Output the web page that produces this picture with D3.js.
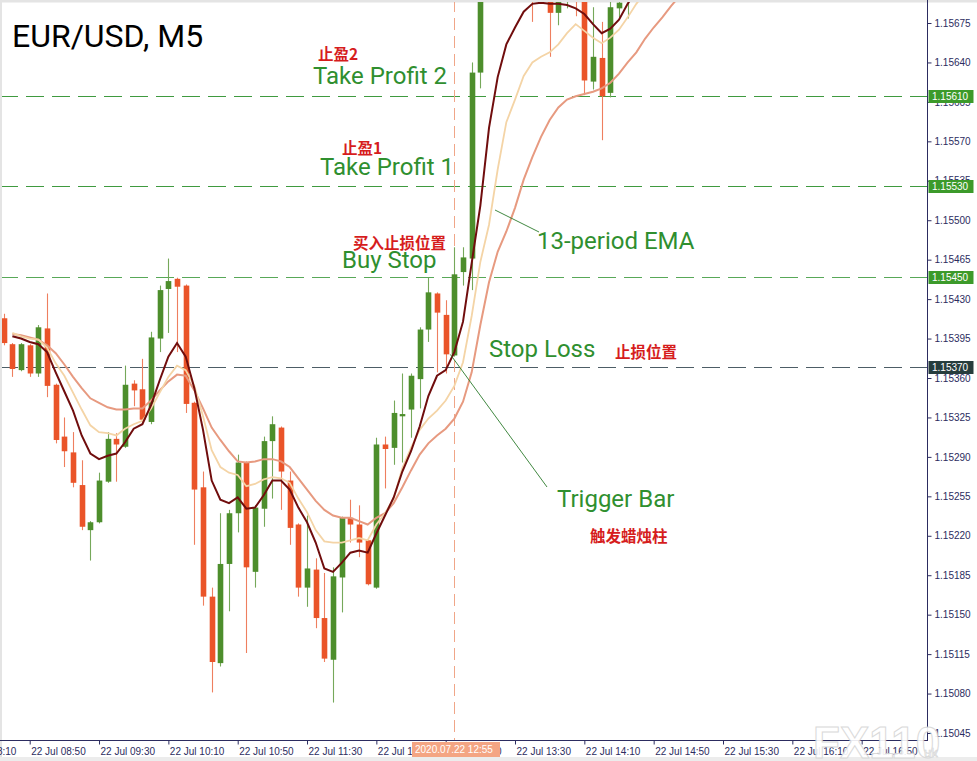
<!DOCTYPE html>
<html><head><meta charset="utf-8">
<script src="https://cdn.jsdelivr.net/npm/d3@7"></script>
<style>
html,body{margin:0;padding:0;background:#fff;}
svg{display:block;}
</style></head><body>
<svg id="chart" width="977" height="761"></svg>
<script>
// ---------- DATA ----------
const candleTimes = ["08:35","08:40","08:45","08:50","08:55","09:00","09:05","09:10","09:15","09:20",
"09:25","09:30","09:35","09:40","09:45","09:50","09:55","10:00","10:05","10:10",
"10:15","10:20","10:25","10:30","10:35","10:40","10:45","10:50","10:55","11:00",
"11:05","11:10","11:15","11:20","11:25","11:30","11:35","11:40","11:45","11:50",
"11:55","12:00","12:05","12:10","12:15","12:20","12:25","12:30","12:35","12:40",
"12:45","12:50","12:55","13:00","13:05","13:10",
"13:40","13:50","13:55","14:00","14:05","14:10","14:15","14:20","14:25","14:30","14:35"];

const openP = [
1.15413,1.15390,1.15367,1.15389,1.15364,1.15404,1.15354,1.15308,1.15294,1.15265,
1.15225,1.15232,1.15268,1.15306,1.15299,1.15355,1.15350,1.15321,1.15395,1.15439,
1.15448,1.15442,1.15338,1.15263,1.15166,1.15107,1.15195,1.15240,1.15285,1.15188,
1.15244,1.15304,1.15316,1.15269,1.15230,1.15174,1.15190,1.15147,1.15110,1.15183,
1.15236,1.15230,1.15216,1.15174,1.15301,1.15298,1.15326,1.15332,1.15359,1.15403,
1.15435,1.15416,1.15380,1.15454,1.15466,1.15631,
1.15720,1.15706,1.15684,1.15697,1.15715,1.15705,1.15623,1.15644,1.15613,1.15688,1.15696];

const highP = [
1.15417,1.15391,1.15391,1.15390,1.15407,1.15435,1.15355,1.15325,1.15312,1.15287,
1.15233,1.15276,1.15312,1.15311,1.15371,1.15358,1.15377,1.15401,1.15442,1.15466,
1.15449,1.15443,1.15339,1.15277,1.15174,1.15240,1.15243,1.15292,1.15286,1.15247,
1.15308,1.15326,1.15317,1.15277,1.15231,1.15238,1.15200,1.15187,1.15192,1.15237,
1.15252,1.15247,1.15217,1.15307,1.15308,1.15340,1.15364,1.15364,1.15405,1.15449,
1.15436,1.15429,1.15476,1.15476,1.15640,1.15712,
1.15725,1.15712,1.15706,1.15716,1.15720,1.15710,1.15689,1.15676,1.15697,1.15700,1.15710];

const lowP = [
1.15389,1.15361,1.15366,1.15361,1.15361,1.15343,1.15302,1.15281,1.15263,1.15225,
1.15198,1.15231,1.15267,1.15268,1.15298,1.15335,1.15321,1.15319,1.15383,1.15400,
1.15383,1.15329,1.15212,1.15158,1.15081,1.15104,1.15153,1.15223,1.15116,1.15174,
1.15228,1.15253,1.15243,1.15212,1.15166,1.15157,1.15138,1.15108,1.15072,1.15152,
1.15214,1.15201,1.15176,1.15173,1.15262,1.15283,1.15285,1.15307,1.15333,1.15392,
1.15365,1.15364,1.15379,1.15442,1.15438,1.15617,
1.15676,1.15645,1.15673,1.15688,1.15681,1.15611,1.15616,1.15571,1.15609,1.15680,1.15679];

const closeP = [
1.15391,1.15368,1.15390,1.15364,1.15405,1.15353,1.15305,1.15295,1.15267,1.15228,
1.15232,1.15269,1.15306,1.15301,1.15354,1.15349,1.15323,1.15396,1.15438,1.15446,
1.15441,1.15337,1.15261,1.15166,1.15108,1.15195,1.15240,1.15285,1.15192,1.15245,
1.15304,1.15319,1.15277,1.15227,1.15174,1.15191,1.15147,1.15111,1.15184,1.15236,
1.15230,1.15214,1.15177,1.15301,1.15297,1.15329,1.15328,1.15362,1.15403,1.15436,
1.15418,1.15381,1.15452,1.15467,1.15631,1.15705,
1.15697,1.15684,1.15702,1.15712,1.15699,1.15624,1.15645,1.15610,1.15689,1.15693,1.15705];

// moving averages, one value per 5-minute bar starting at emaStart
const emaStart = "08:40";
const emaFast = [
1.15397,1.15395,1.15392,1.15390,1.15383,1.15365,1.15348,1.15331,1.15309,1.15293,
1.15288,1.15291,1.15293,1.15303,1.15315,1.15319,1.15336,1.15358,1.15379,1.15391,
1.15379,1.15351,1.15314,1.15269,1.15252,1.15249,1.15254,1.15244,1.15245,1.15256,
1.15269,1.15269,1.15261,1.15245,1.15232,1.15214,1.15191,1.15188,1.15196,1.15205,
1.15207,1.15205,1.15222,1.15238,1.15254,1.15277,1.15295,1.15317,1.15344,1.15362,
1.15367,1.15383,1.15410,1.15462,1.15513,1.15582,1.15627,1.15656,1.15671,1.15685,
1.15692,1.15693,1.15692,1.15692,1.15691,1.15688,1.15683,1.15674,1.15666,1.15670,1.15678,1.15692,1.15704];
const emaMid = [
1.15400,1.15397,1.15395,1.15394,1.15387,1.15373,1.15362,1.15347,1.15332,1.15318,
1.15312,1.15311,1.15309,1.15315,1.15319,1.15322,1.15333,1.15347,1.15361,1.15371,
1.15367,1.15353,1.15326,1.15296,1.15281,1.15276,1.15274,1.15264,1.15266,1.15270,
1.15272,1.15271,1.15267,1.15253,1.15241,1.15225,1.15215,1.15214,1.15214,1.15216,
1.15218,1.15216,1.15230,1.15240,1.15253,1.15280,1.15298,1.15314,1.15324,1.15331,
1.15340,1.15353,1.15374,1.15415,1.15463,1.15496,1.15545,1.15587,1.15607,1.15628,
1.15640,1.15645,1.15649,1.15656,1.15666,1.15674,1.15668,1.15662,1.15657,1.15662,1.15669,1.15680,1.15692,1.15702];
const emaSlow = [
1.15399,1.15398,1.15396,1.15394,1.15389,1.15382,1.15372,1.15361,1.15351,1.15342,
1.15338,1.15334,1.15332,1.15332,1.15333,1.15333,1.15340,1.15349,1.15357,1.15363,
1.15362,1.15349,1.15333,1.15316,1.15305,1.15295,1.15286,1.15285,1.15286,1.15288,
1.15288,1.15286,1.15281,1.15271,1.15261,1.15251,1.15243,1.15238,1.15236,1.15236,
1.15233,1.15230,1.15236,1.15240,1.15249,1.15263,1.15278,1.15292,1.15302,1.15309,
1.15315,1.15324,1.15339,1.15365,1.15407,1.15445,1.15472,1.15490,1.15511,1.15536,
1.15556,1.15574,1.15589,1.15600,1.15607,1.15610,1.15612,1.15614,1.15617,1.15622,
1.15630,1.15640,1.15649,1.15661,1.15671,1.15680,1.15690,1.15699];

const priceTicks = [1.15675,1.15640,1.15605,1.15570,1.15535,1.15500,1.15465,1.15430,1.15395,
1.15360,1.15325,1.15290,1.15255,1.15220,1.15185,1.15150,1.15115,1.15080,1.15045];
const timeTicks = ["08:10","08:50","09:30","10:10","10:50","11:30","12:10","12:50","13:30","14:10","14:50","15:30","16:10","16:50"];
const timeTickLabels = timeTicks.map(t => "22 Jul " + t);

const levelPrices = [1.15610, 1.15530, 1.15450, 1.15370];
const levelNames = ["Take Profit 2", "Take Profit 1", "Buy Stop", "Stop Loss"];
const levelNamesCN = ["止盈2", "止盈1", "买入止损位置", "止损位置"];
const triggerTime = "12:55";
const triggerLabel = "2020.07.22 12:55";
const title = "EUR/USD, M5";

// ---------- DRAW ----------
const svg = d3.select("#chart");
const W = 977, H = 761;
const plotRight = 927, plotBottom = 740, plotTop = 2;
const parse = d3.timeParse("%H:%M");

const x = d3.scaleTime().domain([parse("08:50"), parse("09:30")]).range([29.7, 99.03]);
const y = d3.scaleLinear().domain([1.15045, 1.15675]).range([733, 23]);

// background frame
svg.append("rect").attr("width", W).attr("height", H).attr("fill", "#fff");
svg.append("rect").attr("x",0).attr("y",0).attr("width",W).attr("height",2.5).attr("fill","#e4e4e4");
svg.append("rect").attr("x",0).attr("y",0).attr("width",2).attr("height",H).attr("fill","#e4e4e4");
svg.append("rect").attr("x",0).attr("y",757).attr("width",W).attr("height",4).attr("fill","#ececec");

svg.append("defs").append("clipPath").attr("id","plot")
  .append("rect").attr("x",2).attr("y",plotTop).attr("width",plotRight-2).attr("height",plotBottom-plotTop);

const plot = svg.append("g").attr("clip-path","url(#plot)");

// level lines
const levelStroke = ["#3f9a3f","#3f9a3f","#58a858","#4d5d66"];
plot.selectAll("line.level").data(levelPrices).join("line")
  .attr("class","level")
  .attr("x1",0).attr("x2",plotRight)
  .attr("y1",d=>Math.round(y(d))+0.5).attr("y2",d=>Math.round(y(d))+0.5)
  .attr("stroke",(d,i)=>levelStroke[i]).attr("stroke-width",1)
  .attr("stroke-dasharray","18,8");

// trigger vertical dashed
const tx = x(parse(triggerTime));
plot.append("line").attr("x1",Math.round(tx)+0.5).attr("x2",Math.round(tx)+0.5)
  .attr("y1",0).attr("y2",plotBottom)
  .attr("stroke","#f0a688").attr("stroke-width",1).attr("stroke-dasharray","12,6");

// candles
const candles = candleTimes.map((t,i)=>({t:parse(t),o:openP[i],h:highP[i],l:lowP[i],c:closeP[i]}));
const up = "#4d8e2c", down = "#ea5429";
const bw = 5.6;
const cg = plot.append("g");
cg.selectAll("line.wick").data(candles).join("line")
  .attr("class","wick")
  .attr("x1",d=>Math.round(x(d.t))+0.5).attr("x2",d=>Math.round(x(d.t))+0.5)
  .attr("y1",d=>y(d.h)).attr("y2",d=>y(d.l))
  .attr("stroke",d=>d.c>=d.o?"#76a85a":"#ee7f5f").attr("stroke-width",1.1);
cg.selectAll("rect.body").data(candles).join("rect")
  .attr("class","body")
  .attr("x",d=>Math.round(x(d.t))+0.5-bw/2)
  .attr("y",d=>y(Math.max(d.o,d.c)))
  .attr("width",bw)
  .attr("height",d=>Math.max(1.5, Math.abs(y(d.o)-y(d.c))))
  .attr("fill",d=>d.c>=d.o?up:down);

// moving averages
const s0 = parse(emaStart);
function emaPts(arr){ return arr.map((v,k)=>({t:d3.timeMinute.offset(s0,5*k), v})); }
const lineGen = d3.line().x(d=>x(d.t)).y(d=>y(d.v)).curve(d3.curveLinear);
plot.append("path").datum(emaPts(emaSlow)).attr("d",lineGen)
  .attr("fill","none").attr("stroke","#e79a80").attr("stroke-width",2);
plot.append("path").datum(emaPts(emaMid)).attr("d",lineGen)
  .attr("fill","none").attr("stroke","#f4d4a6").attr("stroke-width",1.8);
plot.append("path").datum(emaPts(emaFast)).attr("d",lineGen)
  .attr("fill","none").attr("stroke","#700d0d").attr("stroke-width",2);

// ---------- axes ----------
const axisColor = "#2c2c60";
const yAxis = d3.axisRight(y).tickValues(priceTicks).tickFormat(d3.format(".5f")).tickSize(4).tickPadding(3);
const gy = svg.append("g").attr("transform",`translate(${plotRight+0.5},0)`).call(yAxis);
gy.select(".domain").remove();
gy.selectAll(".tick line").attr("stroke",axisColor);
gy.selectAll("text").attr("fill",axisColor).attr("font-family","Liberation Sans, Arial, sans-serif").attr("font-size",10);
svg.append("line").attr("x1",plotRight+0.5).attr("x2",plotRight+0.5).attr("y1",0).attr("y2",plotBottom+1)
  .attr("stroke",axisColor).attr("stroke-width",1);

const xAxis = d3.axisBottom(x).tickValues(timeTicks.map(parse)).tickFormat((d,i)=>timeTickLabels[i]).tickSize(4).tickPadding(3);
const gx = svg.append("g").attr("transform",`translate(0,${plotBottom+0.5})`).call(xAxis);
gx.select(".domain").remove();
gx.selectAll(".tick line").attr("stroke",axisColor);
gx.selectAll("text").attr("fill",axisColor).attr("text-anchor","start").attr("x",1)
  .attr("font-family","Liberation Sans, Arial, sans-serif").attr("font-size",10);
svg.append("line").attr("x1",0).attr("x2",plotRight+1).attr("y1",plotBottom+0.5).attr("y2",plotBottom+0.5)
  .attr("stroke",axisColor).attr("stroke-width",1);

// price boxes on right axis
const boxFill = ["#3c9a2a","#3c9a2a","#3c9a2a","#273d3d"];
const pb = svg.append("g");
levelPrices.forEach((p,i)=>{
  const yy = Math.round(y(p))+0.5;
  pb.append("rect").attr("x",plotRight+1.5).attr("y",yy-6.5).attr("width",45).attr("height",13).attr("fill",boxFill[i]);
  pb.append("text").attr("x",plotRight+5).attr("y",yy+3.6).text(d3.format(".5f")(p))
    .attr("fill","#fff").attr("font-family","Liberation Sans, Arial, sans-serif").attr("font-size",10);
});

// trigger time box on time axis
svg.append("rect").attr("x",412).attr("y",plotBottom+2).attr("width",88).attr("height",15).attr("fill","#f4a583");
svg.append("text").attr("x",415).attr("y",plotBottom+13).text(triggerLabel)
  .attr("fill","#fff").attr("font-family","Liberation Sans, Arial, sans-serif").attr("font-size",10);

// ---------- annotations ----------
const green = "#2f8f2f", red = "#d61d1d";
const ann = svg.append("g");
ann.append("text").attr("x",12).attr("y",47).text(title)
  .attr("font-family","Roboto, sans-serif").attr("font-size",32).attr("fill","#000");

const enPos = [[313,84],[320,175],[342,268],[489,357]];
const cnPos = [[318,60],[342,154],[353,249],[615,358]];
levelNames.forEach((s,i)=>{
  ann.append("text").attr("x",enPos[i][0]).attr("y",enPos[i][1]).text(s)
    .attr("font-family","Roboto, sans-serif").attr("font-size",24).attr("fill",green);
  ann.append("text").attr("x",cnPos[i][0]).attr("y",cnPos[i][1]).text(levelNamesCN[i])
    .attr("font-family","Noto Sans CJK SC, sans-serif").attr("font-weight","bold").attr("font-size",15.5).attr("fill",red);
});
ann.append("text").attr("x",537).attr("y",249).text("13-period EMA")
  .attr("font-family","Roboto, sans-serif").attr("font-size",24).attr("fill",green);
ann.append("text").attr("x",557).attr("y",507).text("Trigger Bar")
  .attr("font-family","Roboto, sans-serif").attr("font-size",24).attr("fill",green);
ann.append("text").attr("x",590).attr("y",542).text("触发蜡烛柱")
  .attr("font-family","Noto Sans CJK SC, sans-serif").attr("font-weight","bold").attr("font-size",15.5).attr("fill",red);

// pointer lines
const emaPointT = d3.timeMinute.offset(parse("13:25"), 0);
ann.append("line").attr("x1",495).attr("y1",210).attr("x2",539).attr("y2",232)
  .attr("stroke","#2b7a2b").attr("stroke-width",0.9);
ann.append("line").attr("x1",tx-4).attr("y1",y(1.15380)-1).attr("x2",547).attr("y2",487)
  .attr("stroke","#2b7a2b").attr("stroke-width",0.9);

// watermark
const wm = svg.append("g").attr("opacity",0.9);
wm.append("text").attr("x",813).attr("y",758).text("FX110")
  .attr("font-family","Liberation Sans, Arial, sans-serif").attr("font-weight","bold").attr("font-size",44)
  .attr("fill","#ffffff").attr("stroke","#d6d6d6").attr("stroke-width",1);
wm.append("text").attr("x",924).attr("y",757).text("uk")
  .attr("font-family","Liberation Sans, Arial, sans-serif").attr("font-size",13)
  .attr("fill","#ffffff").attr("stroke","#d0d0d0").attr("stroke-width",0.6);
</script>
</body></html>
